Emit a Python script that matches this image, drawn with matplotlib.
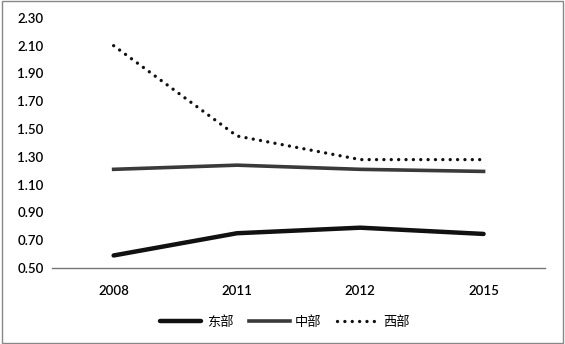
import matplotlib.pyplot as plt
from matplotlib.patches import Rectangle

plt.rcParams['font.family'] = ['Lato', 'Noto Sans CJK SC', 'DejaVu Sans']

years = ['2008', '2011', '2012', '2015']
east = [0.59, 0.75, 0.79, 0.745]
central = [1.21, 1.24, 1.21, 1.195]
west = [2.10, 1.45, 1.28, 1.28]
yticks = [0.50, 0.70, 0.90, 1.10, 1.30, 1.50, 1.70, 1.90, 2.10, 2.30]

fig = plt.figure(figsize=(5.65, 3.44), dpi=100)
ax = fig.add_axes([0.092, 0.221, 0.873, 0.727])

x = [i + 0.5 for i in range(len(years))]
ax.plot(x, east, color='#111111', lw=3.2, solid_capstyle='round', label='东部')
ax.plot(x, central, color='#3a3a3a', lw=2.6, label='中部')
ax.plot(x, west, color='#111111', lw=2.4, linestyle=(0, (0.01, 2.2)), dash_capstyle='round', label='西部')

ax.set_xlim(0, 4)
ax.set_ylim(0.5, 2.3)
ax.set_xticks(x)
ax.set_xticklabels(years, fontsize=9.5, fontweight='semibold')
ax.set_yticks(yticks)
ax.set_yticklabels(['%.2f' % v for v in yticks], fontsize=9.5, fontweight='semibold')
ax.tick_params(length=0, pad=12)
ax.tick_params(axis='y', pad=6)
for s in ['top', 'right', 'left']:
    ax.spines[s].set_visible(False)
ax.spines['bottom'].set_color('#777777')
ax.spines['bottom'].set_linewidth(1)

leg = fig.legend(loc='center', bbox_to_anchor=(0.505, 0.065), ncol=3, frameon=False,
                 fontsize=9.5, handlelength=3.1, columnspacing=1.2, handletextpad=0.4)

fig.patches.append(Rectangle((0.003, 0.004), 0.994, 0.992, transform=fig.transFigure,
                             fill=False, edgecolor='#888888', lw=1))

fig.savefig('out.png', dpi=100)
